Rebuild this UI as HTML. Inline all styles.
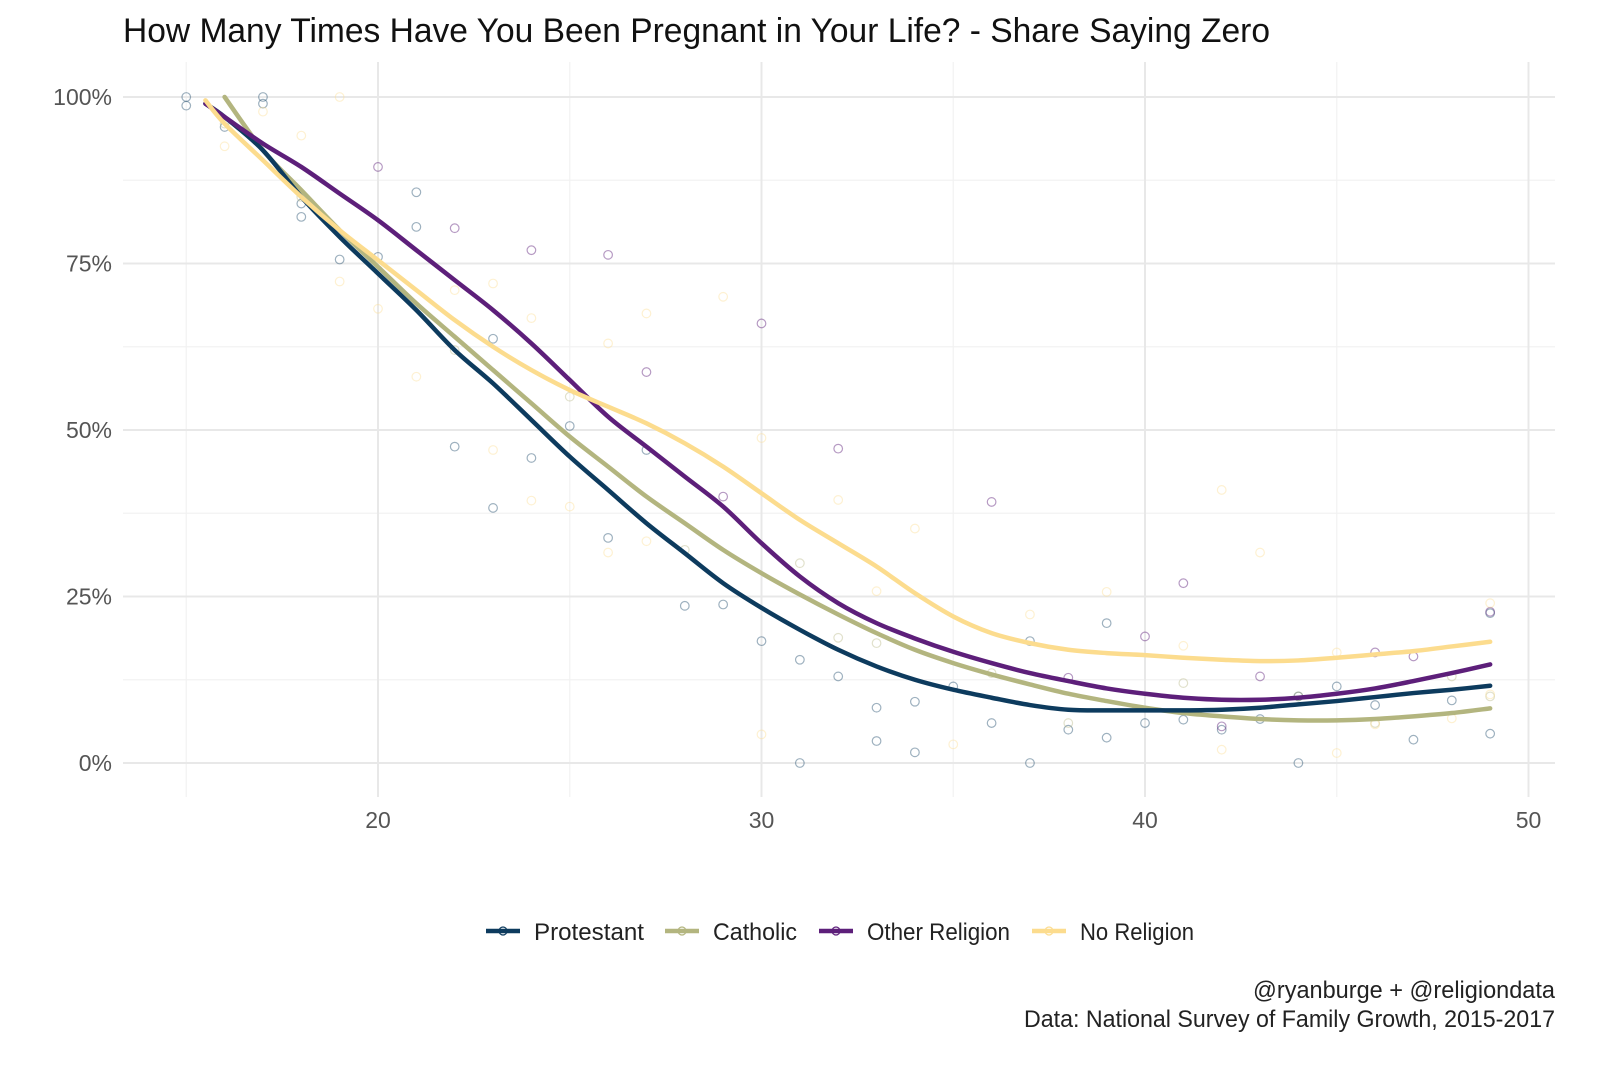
<!DOCTYPE html>
<html><head><meta charset="utf-8"><style>
body{margin:0;background:#fff}
svg text{font-family:"Liberation Sans Narrow","Liberation Sans",sans-serif}
</style></head><body>
<svg id="chart" width="1600" height="1066" xmlns="http://www.w3.org/2000/svg">
<text x="123" y="42" font-size="34" textLength="1147" lengthAdjust="spacingAndGlyphs" fill="#111">How Many Times Have You Been Pregnant in Your Life? - Share Saying Zero</text>
<g id="grid"></g><g id="pts"></g><g id="lines"></g><g id="axes"></g>
<g id="legend"></g>
<text x="1555" y="998" font-size="24" text-anchor="end" textLength="302" lengthAdjust="spacingAndGlyphs" fill="#222">@ryanburge + @religiondata</text>
<text x="1555" y="1027" font-size="24" text-anchor="end" textLength="531" lengthAdjust="spacingAndGlyphs" fill="#222">Data: National Survey of Family Growth, 2015-2017</text>
</svg>
<script>
const xTicks=[20,30,40,50];
const yTicks=[0,25,50,75,100];
const seriesNames=["Protestant","Catholic","Other Religion","No Religion"];
const colors=["#0d3b5e","#b3b57f","#5d1f7a","#fcdc8e"];
const ages=[16,17,18,19,20,21,22,23,24,25,26,27,28,29,30,31,32,33,34,35,36,37,38,39,40,41,42,43,44,45,46,47,48,49];
const protLine=[97,92,85,79,73.5,68,62,57,51.5,46,41,36,31.5,27,23.3,20,17,14.5,12.5,11,9.8,8.7,8,7.9,7.9,7.9,8,8.3,8.8,9.3,9.9,10.5,11,11.6];
const cathLine=[100,92,86,80,74.5,69,64,59,54,49,44.5,40,36,32,28.5,25.3,22.3,19.5,17,15,13.3,11.8,10.4,9.3,8.3,7.5,7,6.6,6.4,6.4,6.6,7,7.5,8.2];
const otherLine=[97,93,89.5,85.5,81.5,77,72.5,68,63,57.5,52,47.5,43,38.5,33,28,24,21,18.7,16.7,15,13.5,12.3,11.2,10.4,9.8,9.5,9.5,9.8,10.4,11.2,12.3,13.5,14.8];
const noneLine=[96,90.5,85,80,75.5,71,66.5,62.5,59,56,53.5,51,48,44.5,40.5,36.5,33,29.5,25.5,22,19.5,18,17,16.5,16.2,15.8,15.5,15.3,15.4,15.8,16.3,16.8,17.5,18.2];
const lineStart=[[15.5,99],[16,100],[15.5,99],[15.5,99.5]];
const protPts=[[15,100],[15,98.7],[16,95.5],[17,100],[17,99],[18,82],[18,84],[19,75.6],[20,76],[21,85.7],[21,80.5],[22,47.5],[23,63.7],[23,38.3],[24,45.8],[25,50.6],[26,33.8],[27,47],[28,23.6],[29,23.8],[30,18.3],[31,15.5],[31,0],[32,13],[33,8.3],[33,3.3],[34,9.2],[34,1.6],[35,11.5],[36,6],[37,18.3],[37,0],[38,5],[39,21],[39,3.8],[40,6],[41,6.5],[42,5],[43,6.6],[44,0],[44,10],[45,11.5],[46,8.7],[47,3.5],[48,9.4],[49,4.4],[49,22.5]];
const cathPts=[[16,96],[18,85],[20,74],[22,62],[25,55],[28,32],[31,30],[32,18.8],[33,18],[36,13.5],[38,6],[41,12],[44,10],[46,6],[48,13],[49,10]];
const otherPts=[[20,89.5],[22,80.3],[24,77],[26,76.3],[27,58.7],[29,40],[30,66],[32,47.2],[36,39.2],[38,12.8],[40,19],[41,27],[42,5.5],[43,13],[46,16.6],[47,16],[49,22.7]];
const nonePts=[[16,92.6],[17,97.8],[18,94.2],[19,100],[19,72.3],[20,68.2],[21,58],[22,71],[23,72],[23,47],[24,66.8],[24,39.4],[25,38.5],[26,63],[26,31.6],[27,67.5],[27,33.3],[29,70],[30,48.8],[30,4.3],[32,39.5],[33,25.8],[34,35.2],[35,2.8],[37,22.3],[39,25.7],[41,17.6],[42,41],[42,2],[43,31.6],[45,16.6],[45,1.5],[46,5.8],[48,6.7],[49,10.3],[49,24]];
const NS="http://www.w3.org/2000/svg";
const X=v=>378+(v-20)*38.35, Y=v=>763-v*6.66;
function mk(t,a,p){const e=document.createElementNS(NS,t);for(const k in a)e.setAttribute(k,a[k]);p.appendChild(e);return e;}
const G=document.getElementById('grid'),A=document.getElementById('axes');
for(const v of [15,25,35,45]){const l=mk('line',{x1:X(v),x2:X(v),y1:62,y2:797,stroke:'#f2f2f2','stroke-width':1.2},G);}
for(const v of [12.5,37.5,62.5,87.5]){const l=mk('line',{x1:123,x2:1555,y1:Y(v),y2:Y(v),stroke:'#f2f2f2','stroke-width':1.2},G);}
for(const v of xTicks){const l=mk('line',{x1:X(v),x2:X(v),y1:62,y2:797,stroke:'#e8e8e8','stroke-width':2},G);
const t=mk('text',{x:X(v),y:828,'font-size':23,'text-anchor':'middle',fill:'#555'},A);t.textContent=v;}
for(const v of yTicks){const l=mk('line',{x1:123,x2:1555,y1:Y(v),y2:Y(v),stroke:'#e8e8e8','stroke-width':2},G);
const t=mk('text',{x:112,y:Y(v)+8,'font-size':23,'text-anchor':'end',fill:'#555'},A);t.textContent=v+'%';}
const P=document.getElementById('pts');
[protPts,cathPts,otherPts,nonePts].forEach((arr,i)=>{for(const [a,v] of arr){const c=mk('circle',{cx:X(a),cy:Y(v),r:4.3,fill:'none',stroke:colors[i],'stroke-width':1.2,opacity:i==2?0.45:0.4},P);}});
function path(pts){let d=`M${pts[0][0]},${pts[0][1]}`;for(let i=0;i<pts.length-1;i++){const p0=pts[Math.max(0,i-1)],p1=pts[i],p2=pts[i+1],p3=pts[Math.min(pts.length-1,i+2)];
d+=` C${p1[0]+(p2[0]-p0[0])/6},${p1[1]+(p2[1]-p0[1])/6} ${p2[0]-(p3[0]-p1[0])/6},${p2[1]-(p3[1]-p1[1])/6} ${p2[0]},${p2[1]}`;}return d;}
const L=document.getElementById('lines');
const order=[1,0,2,3];
const lineData=[protLine,cathLine,otherLine,noneLine];
for(const i of order){const pts=[[X(lineStart[i][0]),Y(lineStart[i][1])]];ages.forEach((a,j)=>{if(!(i==1&&a==16))pts.push([X(a),Y(lineData[i][j])]);});
const p=mk('path',{d:path(pts),fill:'none',stroke:colors[i],'stroke-width':4.5,'stroke-linecap':'round'},L);}
const LG=document.getElementById('legend');
const lx=[486,665,819,1032];
const lw=[110,84,143,114];
seriesNames.forEach((n,i)=>{const g=mk('g',{},LG);
mk('line',{x1:lx[i],x2:lx[i]+34,y1:931,y2:931,stroke:colors[i],'stroke-width':4.5},g);
mk('circle',{cx:lx[i]+17,cy:931,r:4,fill:'none',stroke:colors[i],'stroke-width':1.2},g);
const t=mk('text',{x:lx[i]+48,y:940,'font-size':24,fill:'#222',textLength:lw[i],lengthAdjust:'spacingAndGlyphs'},g);t.textContent=n;});
</script>
</body></html>
